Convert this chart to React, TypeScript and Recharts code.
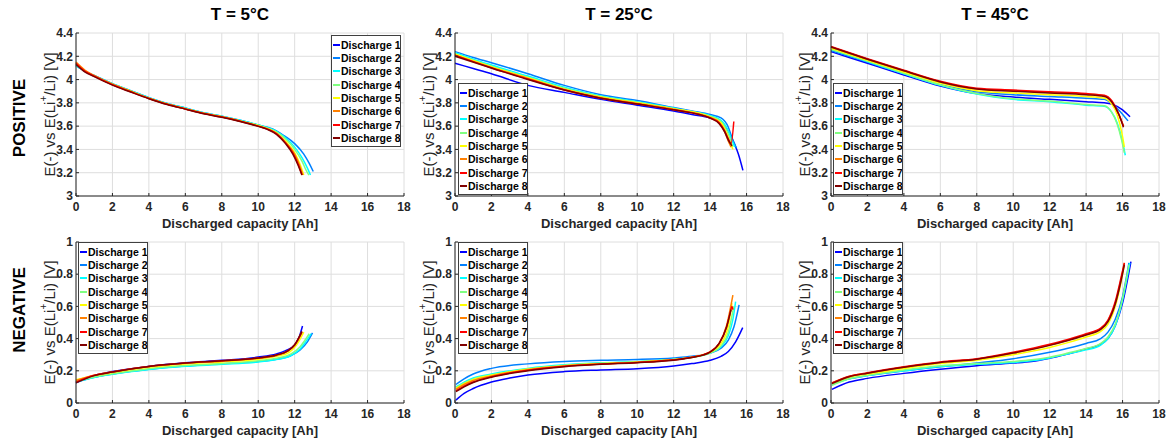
import React from 'react';
import { LineChart, Line, XAxis, YAxis, CartesianGrid, Legend, Label } from 'recharts';

type Pt = [number, number];

const FONT = '"Liberation Sans", Arial, Helvetica, sans-serif';

const NAMES = ['Discharge 1', 'Discharge 2', 'Discharge 3', 'Discharge 4', 'Discharge 5', 'Discharge 6', 'Discharge 7', 'Discharge 8'];
const COLORS = ['#0000ff', '#0080ff', '#00ffff', '#80ff80', '#ffff00', '#ff8000', '#ff0000', '#800000'];
const TITLES = ['T = 5°C', 'T = 25°C', 'T = 45°C'];
const ROWS = ['POSITIVE', 'NEGATIVE'];
const X_TICKS = [0, 2, 4, 6, 8, 10, 12, 14, 16, 18];
const POS_TICKS = [3, 3.2, 3.4, 3.6, 3.8, 4, 4.2, 4.4];
const NEG_TICKS = [0, 0.2, 0.4, 0.6, 0.8, 1];

// positive electrode, 5 °C
const POS_5C: Pt[][] = [
  [[0, 4.13], [0.5, 4.07], [1, 4.03], [2, 3.96], [3, 3.9], [4, 3.84], [5, 3.79], [6, 3.75], [7, 3.71], [8, 3.68], [9, 3.645], [10, 3.605], [10.5, 3.58], [11, 3.54], [11.5, 3.46], [11.9, 3.38], [12.2, 3.28], [12.43, 3.19]],
  [[0, 4.12], [0.5, 4.07], [1, 4.035], [2, 3.965], [3, 3.905], [4, 3.845], [5, 3.795], [6, 3.755], [7, 3.715], [8, 3.685], [9, 3.65], [10, 3.61], [10.5, 3.59], [11, 3.56], [11.5, 3.51], [12, 3.45], [12.5, 3.36], [12.8, 3.28], [13.02, 3.21]],
  [[0, 4.12], [0.5, 4.07], [1, 4.035], [2, 3.965], [3, 3.905], [4, 3.845], [5, 3.795], [6, 3.755], [7, 3.715], [8, 3.685], [9, 3.65], [10, 3.61], [11, 3.555], [11.5, 3.5], [12, 3.42], [12.4, 3.33], [12.7, 3.24], [12.87, 3.18]],
  [[0, 4.13], [0.5, 4.07], [1, 4.03], [2, 3.96], [3, 3.9], [4, 3.84], [5, 3.79], [6, 3.75], [7, 3.71], [8, 3.68], [9, 3.645], [10, 3.605], [11, 3.55], [11.5, 3.49], [12, 3.4], [12.4, 3.3], [12.6, 3.23], [12.78, 3.18]],
  [[0, 4.14], [0.5, 4.075], [1, 4.03], [2, 3.96], [3, 3.9], [4, 3.84], [5, 3.79], [6, 3.75], [7, 3.71], [8, 3.68], [9, 3.645], [10, 3.605], [11, 3.54], [11.5, 3.47], [12, 3.37], [12.3, 3.27], [12.5, 3.18]],
  [[0, 4.15], [0.5, 4.08], [1, 4.035], [2, 3.96], [3, 3.9], [4, 3.84], [5, 3.79], [6, 3.75], [7, 3.71], [8, 3.68], [9, 3.645], [10, 3.6], [11, 3.535], [11.5, 3.46], [12, 3.36], [12.25, 3.27], [12.45, 3.18]],
  [[0, 4.14], [0.5, 4.07], [1, 4.03], [2, 3.955], [3, 3.895], [4, 3.838], [5, 3.788], [6, 3.748], [7, 3.708], [8, 3.678], [9, 3.642], [10, 3.6], [10.5, 3.575], [11, 3.535], [11.5, 3.455], [11.9, 3.37], [12.2, 3.27], [12.4, 3.18]],
  [[0, 4.13], [0.5, 4.065], [1, 4.025], [2, 3.952], [3, 3.893], [4, 3.836], [5, 3.786], [6, 3.746], [7, 3.706], [8, 3.676], [9, 3.64], [10, 3.598], [10.5, 3.572], [11, 3.53], [11.5, 3.45], [11.9, 3.36], [12.2, 3.26], [12.4, 3.18]],
];

// positive electrode, 25 °C
const POS_25C: Pt[][] = [
  [[0, 4.14], [1, 4.095], [2, 4.05], [4, 3.95], [6, 3.89], [8, 3.83], [10, 3.78], [12, 3.73], [13, 3.7], [14, 3.67], [14.6, 3.63], [15, 3.56], [15.3, 3.46], [15.55, 3.36], [15.8, 3.22]],
  [[0, 4.24], [1, 4.19], [2, 4.145], [4, 4.05], [6, 3.95], [8, 3.87], [10, 3.82], [12, 3.76], [13, 3.73], [14, 3.7], [14.6, 3.67], [15, 3.59], [15.2, 3.5], [15.45, 3.41]],
  [[0, 4.23], [1, 4.175], [2, 4.125], [4, 4.03], [6, 3.935], [8, 3.86], [10, 3.81], [12, 3.755], [13, 3.725], [14, 3.69], [14.6, 3.65], [15, 3.56], [15.2, 3.48], [15.35, 3.42]],
  [[0, 4.22], [2, 4.115], [4, 4.02], [6, 3.925], [8, 3.855], [10, 3.805], [12, 3.75], [14, 3.685], [14.6, 3.64], [15, 3.53], [15.25, 3.42]],
  [[0, 4.22], [2, 4.11], [4, 4.015], [6, 3.92], [8, 3.85], [10, 3.8], [12, 3.75], [14, 3.68], [14.6, 3.63], [14.9, 3.54], [15.1, 3.46], [15.25, 3.4]],
  [[0, 4.21], [2, 4.105], [4, 4.01], [6, 3.915], [8, 3.845], [10, 3.795], [12, 3.745], [14, 3.675], [14.5, 3.63], [14.8, 3.55], [15, 3.47], [15.15, 3.42]],
  [[0, 4.21], [2, 4.1], [4, 4.005], [6, 3.91], [8, 3.84], [10, 3.79], [12, 3.74], [14, 3.67], [14.5, 3.63], [14.8, 3.56], [15, 3.49], [15.15, 3.45], [15.3, 3.64]],
  [[0, 4.2], [2, 4.1], [4, 4.0], [6, 3.91], [8, 3.84], [10, 3.79], [12, 3.74], [14, 3.67], [14.5, 3.62], [14.8, 3.55], [15, 3.48], [15.2, 3.43]],
];

// positive electrode, 45 °C
const POS_45C: Pt[][] = [
  [[0, 4.24], [2, 4.14], [4, 4.04], [6, 3.945], [8, 3.88], [10, 3.85], [12, 3.83], [14, 3.81], [15, 3.8], [15.5, 3.785], [16, 3.74], [16.41, 3.68]],
  [[0, 4.25], [2, 4.15], [4, 4.05], [6, 3.955], [8, 3.895], [10, 3.87], [12, 3.855], [14, 3.84], [15, 3.83], [15.5, 3.78], [15.9, 3.72], [16.3, 3.645]],
  [[0, 4.26], [2, 4.155], [4, 4.05], [6, 3.95], [8, 3.875], [10, 3.83], [12, 3.81], [14, 3.78], [15, 3.77], [15.4, 3.72], [15.7, 3.63], [15.95, 3.5], [16.15, 3.35]],
  [[0, 4.26], [2, 4.16], [4, 4.055], [6, 3.955], [8, 3.88], [10, 3.835], [12, 3.815], [14, 3.785], [15, 3.775], [15.4, 3.72], [15.7, 3.62], [15.95, 3.48], [16.1, 3.37]],
  [[0, 4.27], [2, 4.165], [4, 4.065], [6, 3.97], [8, 3.905], [10, 3.885], [12, 3.87], [14, 3.855], [15, 3.84], [15.4, 3.79], [15.7, 3.7], [15.95, 3.55], [16.1, 3.42]],
  [[0, 4.28], [2, 4.175], [4, 4.075], [6, 3.98], [8, 3.92], [10, 3.905], [12, 3.89], [14, 3.875], [15, 3.86], [15.4, 3.81], [15.8, 3.7], [16.05, 3.6]],
  [[0, 4.285], [2, 4.18], [4, 4.08], [6, 3.985], [8, 3.925], [10, 3.91], [12, 3.895], [14, 3.88], [15, 3.865], [15.4, 3.82], [15.8, 3.7], [16.05, 3.6]],
  [[0, 4.28], [2, 4.175], [4, 4.075], [6, 3.98], [8, 3.92], [10, 3.9], [12, 3.885], [14, 3.87], [15, 3.855], [15.4, 3.81], [15.8, 3.7], [16.05, 3.59]],
];

// negative electrode, 5 °C
const NEG_5C: Pt[][] = [
  [[0, 0.125], [1, 0.17], [2, 0.195], [4, 0.228], [6, 0.25], [8, 0.265], [10, 0.285], [11, 0.305], [11.5, 0.325], [12, 0.36], [12.25, 0.41], [12.43, 0.478]],
  [[0, 0.13], [1, 0.16], [2, 0.18], [4, 0.21], [6, 0.23], [8, 0.243], [10, 0.258], [11, 0.272], [11.8, 0.295], [12.3, 0.33], [12.7, 0.38], [12.98, 0.435]],
  [[0, 0.13], [1, 0.158], [2, 0.178], [4, 0.208], [6, 0.228], [8, 0.24], [10, 0.255], [11, 0.27], [11.8, 0.295], [12.3, 0.335], [12.6, 0.38], [12.9, 0.43]],
  [[0, 0.135], [1, 0.162], [2, 0.182], [4, 0.213], [6, 0.233], [8, 0.245], [10, 0.262], [11, 0.278], [11.8, 0.305], [12.3, 0.35], [12.8, 0.43]],
  [[0, 0.145], [1, 0.17], [2, 0.19], [4, 0.222], [6, 0.242], [8, 0.255], [10, 0.272], [11, 0.29], [11.7, 0.315], [12.1, 0.36], [12.5, 0.44]],
  [[0, 0.14], [1, 0.172], [2, 0.193], [4, 0.226], [6, 0.247], [8, 0.26], [10, 0.278], [11, 0.295], [11.6, 0.32], [12, 0.36], [12.4, 0.44]],
  [[0, 0.13], [1, 0.172], [2, 0.193], [4, 0.227], [6, 0.248], [8, 0.262], [10, 0.28], [11, 0.298], [11.6, 0.322], [12, 0.36], [12.4, 0.44]],
  [[0, 0.125], [1, 0.17], [2, 0.192], [4, 0.227], [6, 0.248], [8, 0.262], [10, 0.28], [11, 0.298], [11.6, 0.322], [12, 0.362], [12.4, 0.445]],
];

// negative electrode, 25 °C
const NEG_25C: Pt[][] = [
  [[0.05, 0.018], [0.5, 0.06], [1, 0.09], [2, 0.13], [3, 0.155], [4, 0.174], [6, 0.195], [8, 0.205], [10, 0.213], [12, 0.23], [13, 0.245], [14, 0.265], [14.6, 0.29], [15, 0.32], [15.4, 0.38], [15.79, 0.468]],
  [[0.05, 0.115], [0.5, 0.15], [1, 0.18], [2, 0.215], [4, 0.243], [6, 0.258], [8, 0.265], [10, 0.27], [12, 0.28], [13, 0.29], [14, 0.31], [14.6, 0.34], [15, 0.39], [15.3, 0.47], [15.59, 0.61]],
  [[0.05, 0.1], [0.5, 0.13], [1, 0.155], [2, 0.18], [4, 0.215], [6, 0.237], [8, 0.25], [10, 0.258], [12, 0.272], [13, 0.285], [14, 0.31], [14.6, 0.35], [15, 0.42], [15.25, 0.52], [15.4, 0.63]],
  [[0.05, 0.095], [0.5, 0.125], [1, 0.15], [2, 0.175], [4, 0.212], [6, 0.234], [8, 0.247], [10, 0.256], [12, 0.27], [13, 0.283], [14, 0.31], [14.6, 0.355], [15, 0.44], [15.3, 0.6]],
  [[0.05, 0.09], [0.5, 0.12], [1, 0.145], [2, 0.172], [4, 0.21], [6, 0.232], [8, 0.245], [10, 0.255], [12, 0.27], [13, 0.285], [14, 0.315], [14.6, 0.37], [15, 0.48], [15.2, 0.62]],
  [[0.05, 0.085], [0.5, 0.115], [1, 0.14], [2, 0.168], [4, 0.207], [6, 0.23], [8, 0.243], [10, 0.253], [12, 0.268], [13, 0.284], [14, 0.318], [14.5, 0.37], [14.9, 0.48], [15.25, 0.67]],
  [[0.05, 0.075], [0.5, 0.105], [1, 0.13], [2, 0.163], [4, 0.204], [6, 0.228], [8, 0.242], [10, 0.252], [12, 0.268], [13, 0.284], [14, 0.318], [14.5, 0.37], [14.9, 0.47], [15.1, 0.56], [15.2, 0.6], [15.25, 0.58]],
  [[0.05, 0.07], [0.5, 0.1], [1, 0.127], [2, 0.16], [4, 0.2], [6, 0.225], [8, 0.24], [10, 0.25], [12, 0.266], [13, 0.282], [14, 0.316], [14.5, 0.37], [14.9, 0.47], [15.15, 0.58]],
];

// negative electrode, 45 °C
const NEG_45C: Pt[][] = [
  [[0.05, 0.085], [1, 0.13], [2, 0.153], [4, 0.184], [6, 0.21], [8, 0.232], [10, 0.248], [11, 0.258], [12, 0.278], [13, 0.305], [14, 0.335], [14.8, 0.365], [15.2, 0.4], [15.6, 0.48], [16, 0.62], [16.46, 0.878]],
  [[0.05, 0.12], [1, 0.15], [2, 0.17], [4, 0.2], [6, 0.225], [8, 0.248], [10, 0.275], [12, 0.315], [13, 0.34], [14, 0.37], [14.8, 0.4], [15.2, 0.44], [15.6, 0.52], [16, 0.66], [16.35, 0.87]],
  [[0.05, 0.115], [1, 0.15], [2, 0.17], [4, 0.2], [6, 0.227], [8, 0.24], [10, 0.252], [11, 0.262], [12, 0.28], [13, 0.305], [14, 0.33], [14.8, 0.36], [15.2, 0.4], [15.6, 0.48], [16, 0.64], [16.4, 0.87]],
  [[0.05, 0.11], [1, 0.15], [2, 0.172], [4, 0.205], [6, 0.232], [8, 0.245], [10, 0.258], [11, 0.268], [12, 0.285], [13, 0.31], [14, 0.338], [14.8, 0.37], [15.2, 0.41], [15.6, 0.49], [16, 0.65], [16.35, 0.86]],
  [[0.05, 0.12], [1, 0.16], [2, 0.18], [4, 0.215], [6, 0.245], [8, 0.265], [10, 0.3], [12, 0.345], [13, 0.375], [14, 0.41], [14.8, 0.445], [15.2, 0.49], [15.6, 0.6], [15.9, 0.74], [16.1, 0.86]],
  [[0.05, 0.125], [1, 0.165], [2, 0.185], [4, 0.222], [6, 0.252], [8, 0.272], [10, 0.31], [12, 0.36], [13, 0.39], [14, 0.425], [14.8, 0.46], [15.2, 0.51], [15.6, 0.62], [15.9, 0.76], [16.1, 0.87]],
  [[0.05, 0.125], [1, 0.167], [2, 0.188], [4, 0.225], [6, 0.255], [8, 0.275], [10, 0.315], [12, 0.365], [13, 0.395], [14, 0.43], [14.8, 0.465], [15.2, 0.515], [15.6, 0.63], [15.9, 0.77], [16.1, 0.87]],
  [[0.05, 0.12], [1, 0.163], [2, 0.185], [4, 0.222], [6, 0.252], [8, 0.272], [10, 0.31], [12, 0.358], [13, 0.388], [14, 0.422], [14.8, 0.457], [15.2, 0.505], [15.6, 0.615], [15.9, 0.75], [16.1, 0.86]],
];

const AXIS = '#262626';

const YLabel = (props: any) => {
  const vb = props.viewBox || {};
  const cx = vb.x + vb.width - 27;
  const cy = vb.y + vb.height / 2;
  return (
    <text
      x={cx}
      y={cy}
      transform={`rotate(-90 ${cx} ${cy})`}
      textAnchor="middle"
      dominantBaseline="central"
      fontFamily={FONT}
      fontSize={15}
      fill={AXIS}
    >
      E(-) vs E(Li<tspan dy={-6} fontSize={10}>+</tspan>
      <tspan dy={6}>/Li) [V]</tspan>
    </text>
  );
};

const LegendBox = () => (
  <div
    style={{
      border: '1px solid #404040',
      background: '#fff',
      padding: '2px 0 1px 1px',
      fontFamily: FONT,
      fontSize: 10.5,
      fontWeight: 'bold',
      color: '#000',
      width: 70,
      boxSizing: 'border-box',
      overflow: 'hidden',
    }}
  >
    {NAMES.map((n, i) => (
      <div key={n} style={{ display: 'flex', alignItems: 'center', height: 13.33, whiteSpace: 'nowrap' }}>
        <span style={{ width: 7, height: 2, background: COLORS[i], marginRight: 1, flex: 'none' }} />
        {n}
      </div>
    ))}
  </div>
);

interface PanelProps {
  curves: Pt[][];
  yDomain: [number, number];
  yTicks: number[];
  left: number;
  top: number;
  height: number;
  legendLeft: number;
  legendTop: number;
}

const Panel = ({ curves, yDomain, yTicks, left, top, height, legendLeft, legendTop }: PanelProps) => (
  <div style={{ position: 'absolute', left, top }}>
    <LineChart width={412} height={height} margin={{ top: 33, right: 8, bottom: 0, left: 31 }}>
      <CartesianGrid stroke="#dedede" />
      <XAxis
        dataKey="x"
        type="number"
        domain={[0, 18]}
        ticks={X_TICKS}
        height={38}
        stroke={AXIS}
        tickSize={-3}
        tickMargin={9}
        tick={{ fill: AXIS, fontSize: 12, fontWeight: 'bold', fontFamily: FONT }}
        label={{
          value: 'Discharged capacity [Ah]',
          position: 'insideBottom',
          offset: 6,
          fill: AXIS,
          fontSize: 13,
          fontWeight: 'bold',
          fontFamily: FONT,
        }}
      />
      <XAxis xAxisId="top" orientation="top" type="number" domain={[0, 18]} ticks={X_TICKS} height={0} stroke={AXIS} tickSize={-3} tick={false} />
      <YAxis
        type="number"
        domain={yDomain}
        ticks={yTicks}
        width={45}
        stroke={AXIS}
        tickSize={-3}
        tickMargin={6}
        tick={{ fill: AXIS, fontSize: 12, fontWeight: 'bold', fontFamily: FONT }}
      >
        <Label content={YLabel} />
      </YAxis>
      <YAxis yAxisId="right" orientation="right" type="number" domain={yDomain} ticks={yTicks} width={0} stroke={AXIS} tickSize={-3} tick={false} />
      <Legend
        layout="horizontal"
        align="center"
        verticalAlign="middle"
        content={() => <LegendBox />}
        wrapperStyle={{ left: legendLeft, top: legendTop, width: 70, height: 'auto', right: 'auto', bottom: 'auto' }}
      />
      {curves.map((c, i) => (
        <Line
          key={NAMES[i]}
          name={NAMES[i]}
          data={c.map(([x, y]) => ({ x, y }))}
          dataKey="y"
          type="monotone"
          stroke={COLORS[i]}
          strokeWidth={1.5}
          dot={false}
          isAnimationActive={false}
        />
      ))}
    </LineChart>
  </div>
);

const COL_LEFT = [0, 379, 755];

export default function App() {
  return (
    <div style={{ position: 'absolute', left: 0, top: 0, width: 1169, height: 441, background: '#fff', overflow: 'hidden' }}>
      <Panel curves={POS_5C} yDomain={[3, 4.4]} yTicks={POS_TICKS} left={COL_LEFT[0]} top={0} height={234} legendLeft={331} legendTop={35} />
      <Panel curves={POS_25C} yDomain={[3, 4.4]} yTicks={POS_TICKS} left={COL_LEFT[1]} top={0} height={234} legendLeft={79} legendTop={83} />
      <Panel curves={POS_45C} yDomain={[3, 4.4]} yTicks={POS_TICKS} left={COL_LEFT[2]} top={0} height={234} legendLeft={78} legendTop={83} />
      <Panel curves={NEG_5C} yDomain={[0, 1]} yTicks={NEG_TICKS} left={COL_LEFT[0]} top={209} height={232} legendLeft={78} legendTop={33} />
      <Panel curves={NEG_25C} yDomain={[0, 1]} yTicks={NEG_TICKS} left={COL_LEFT[1]} top={209} height={232} legendLeft={79} legendTop={33} />
      <Panel curves={NEG_45C} yDomain={[0, 1]} yTicks={NEG_TICKS} left={COL_LEFT[2]} top={209} height={232} legendLeft={78} legendTop={33} />
      <svg width={1169} height={441} style={{ position: 'absolute', left: 0, top: 0, pointerEvents: 'none' }}>
        {TITLES.map((t, i) => (
          <text key={t} x={COL_LEFT[i] + 240} y={14} textAnchor="middle" dominantBaseline="central" fontFamily={FONT} fontSize={17} fontWeight="bold" fill="#000">
            {t}
          </text>
        ))}
        {ROWS.map((r, i) => {
          const cx = 19;
          const cy = i === 0 ? 118 : 310;
          return (
            <text key={r} x={cx} y={cy} transform={`rotate(-90 ${cx} ${cy})`} textAnchor="middle" dominantBaseline="central" fontFamily={FONT} fontSize={17} fontWeight="bold" fill="#000">
              {r}
            </text>
          );
        })}
      </svg>
    </div>
  );
}
